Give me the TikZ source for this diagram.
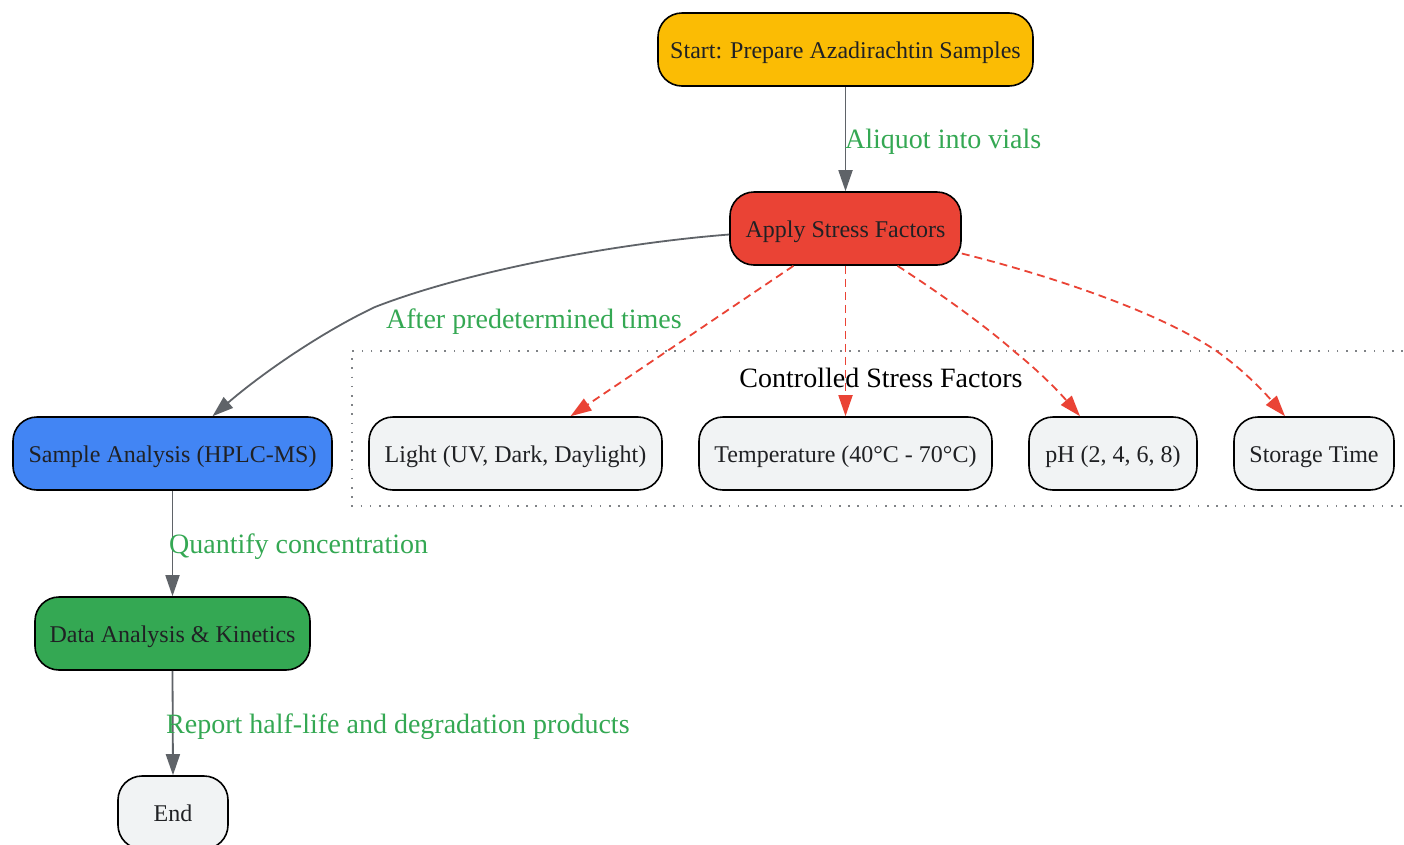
\documentclass[tikz,border=0pt]{standalone}
\usepackage{fontspec}
\setmainfont{Liberation Serif}
\usetikzlibrary{arrows.meta}
\definecolor{cyellow}{HTML}{FBBC04}
\definecolor{cred}{HTML}{EA4335}
\definecolor{cblue}{HTML}{4285F4}
\definecolor{cgreen}{HTML}{34A853}
\definecolor{cgrey}{HTML}{F1F3F4}
\definecolor{cedge}{HTML}{5F6368}
\definecolor{ctext}{HTML}{202124}
\begin{document}
\begin{tikzpicture}[x=1pt,y=-1pt,
  box/.style={draw=black,line width=1.6pt,rounded corners=24pt,minimum height=73pt,inner sep=0pt,
    text height=17pt,text depth=0pt,
    text=ctext,font=\fontsize{24}{28}\selectfont},
  flow/.style={draw=cedge,line width=1.8pt,-{Triangle[length=21pt,width=14pt]}},
  stress/.style={draw=cred,line width=1.8pt,dash pattern=on 8pt off 5pt,-{Triangle[length=21pt,width=14pt]}},
  elabel/.style={text=cgreen,font=\fontsize{28}{32}\selectfont,inner sep=0pt,anchor=base west},
]
\useasboundingbox (0,0) rectangle (1404,844);
\fill[white] (0,0) rectangle (1404,844);

% cluster
\draw[draw=cedge!80,line width=1.8pt,dash pattern=on 1.6pt off 7.6pt] (1412,351) -- (352,351) -- (352,506) -- (1412,506);
\node[font=\fontsize{28}{32}\selectfont,text=black,inner sep=0pt,anchor=base] (clabel) at (881,387) {Controlled Stress Factors};

% nodes
\node[box,fill=cyellow,minimum width=375pt] (start) at (845.5,49.5) {Start: Prepare Azadirachtin Samples};
\node[box,fill=cred,minimum width=231pt] (apply) at (845.5,228.5) {Apply Stress Factors};
\node[box,fill=cblue,minimum width=319pt] (sample) at (172.5,453.5) {Sample Analysis (HPLC-MS)};
\node[box,fill=cgreen,minimum width=275pt] (data) at (172.5,633.5) {Data Analysis \& Kinetics};
\node[box,fill=cgrey,minimum width=110pt] (end) at (173,812.5) {End};
\node[box,fill=cgrey,minimum width=293pt] (light) at (515.5,453.5) {Light (UV, Dark, Daylight)};
\node[box,fill=cgrey,minimum width=293pt] (temp) at (845.5,453.5) {Temperature (40°C - 70°C)};
\node[box,fill=cgrey,minimum width=168pt] (ph) at (1113,453.5) {pH (2, 4, 6, 8)};
\node[box,fill=cgrey,minimum width=160pt] (storage) at (1314,453.5) {Storage Time};

% flow edges
\draw[flow] (start.south) -- (apply.north);
\node[elabel] (l1) at (845,148) {Aliquot into vials};
\draw[flow] ([yshift=-6pt]apply.west) .. controls (620,243) and (470,270) .. (375,307)
  .. controls (320,333) and (260,375) .. ([xshift=40pt]sample.north);
\node[elabel] (l2) at (386,328) {After predetermined times};
\draw[flow] (sample.south) -- (data.north);
\node[elabel] (l3) at (169,553) {Quantify concentration};
\draw[flow] (data.south) -- (end.north);
\node[elabel] (l4) at (166,733) {Report half-life and degradation products};

% stress edges
\draw[stress] ([xshift=-52pt]apply.south) -- ([xshift=55pt]light.north);
\draw[stress] (apply.south) -- (temp.north);
\draw[stress] ([xshift=52pt]apply.south) .. controls (950,300) and (990,330) .. (1015,352)
  .. controls (1040,372) and (1060,393) .. ([xshift=-33pt]ph.north);
\draw[stress] ([yshift=-25pt]apply.east) .. controls (1040,273) and (1150,308) .. (1212,348)
  .. controls (1242,368) and (1265,393) .. ([xshift=-29pt]storage.north);
\end{tikzpicture}
\end{document}
